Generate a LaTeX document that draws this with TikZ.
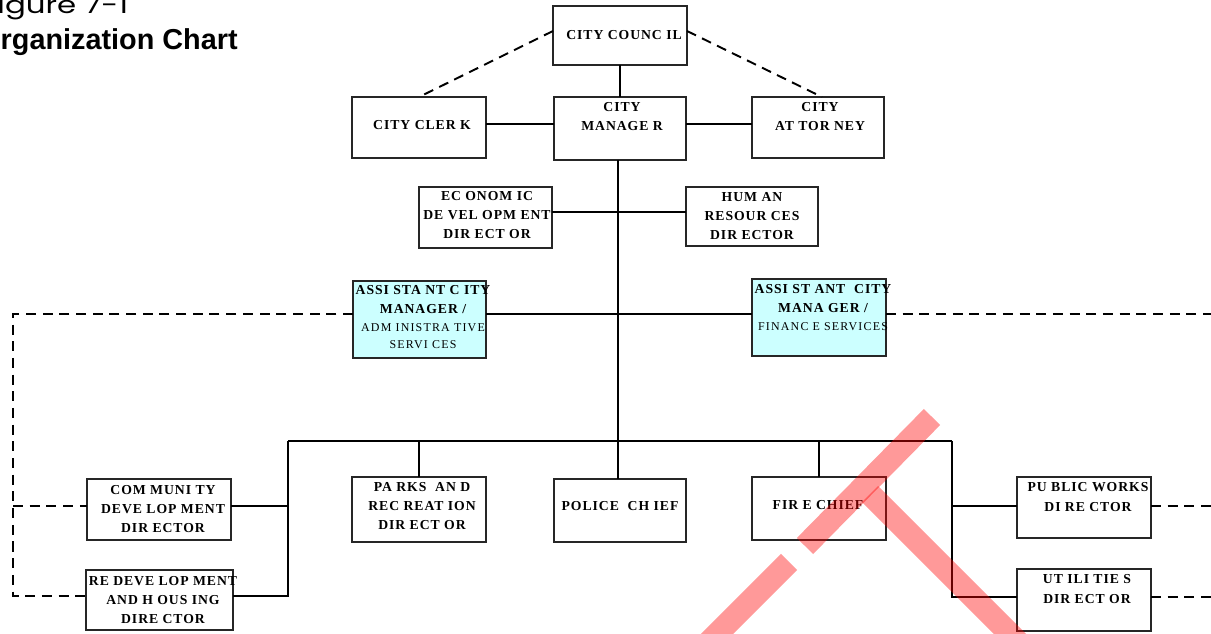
\documentclass[tikz,border=0pt]{standalone}
\usepackage{fontspec}
\setmainfont{Liberation Serif}
\newfontfamily\boxfont{Liberation Serif}[LetterSpace=7]
\newfontfamily\smallboxfont{Liberation Serif}[LetterSpace=10]
\newfontfamily\headfont{Liberation Sans}
\newfontfamily\figfont{Poppins}[FakeStretch=1.3]
\definecolor{asstfill}{RGB}{204,255,255}

\begin{document}
\begin{tikzpicture}[x=0.02cm, y=-0.02cm,
  box/.style={draw=black!85, line width=0.6pt, inner sep=0pt, outer sep=0pt, rectangle},
  asstbox/.style={box, fill=asstfill},
  sz/.style 2 args={minimum width=#1*0.02cm, minimum height=#2*0.02cm},
  unit text/.style={align=center, inner sep=0pt,
    font=\boxfont\bfseries\fontsize{7.8}{11}\selectfont},
  link/.style={line width=1.1pt, black},
  dashlink/.style={line width=1.1pt, black, dash pattern=on 5.7pt off 3.8pt},
  cross/.style={line width=13pt, red, draw opacity=0.4, line cap=butt}
]
\useasboundingbox (0,0) rectangle (1211,634);

% ---- heading ----
\node[anchor=base east, inner sep=0pt, font=\figfont\fontsize{13.5}{15}\selectfont]
  (fignum) at (128.5,14) {Figure 7-1};
\node[anchor=base east, inner sep=0pt, font=\headfont\bfseries\fontsize{16.4}{19}\selectfont]
  (figtitle) at (238,49.5) {Organization Chart};

% ---- unit boxes ----
\node[box, sz={134}{59}] (council)   at (620,35.5)   {};
\node[box, sz={134}{61}] (clerk)     at (419,127.5)  {};
\node[box, sz={132}{63}] (manager)   at (620,128.5)  {};
\node[box, sz={132}{61}] (attorney)  at (818,127.5)  {};
\node[box, sz={133}{61}] (econ)      at (485.5,217.5) {};
\node[box, sz={132}{59}] (hr)        at (752,216.5)  {};
\node[asstbox, sz={133}{77}] (acmadmin) at (419.5,319.5) {};
\node[asstbox, sz={134}{77}] (acmfin)   at (819,317.5)   {};
\node[box, sz={144}{61}] (community) at (159,509.5)  {};
\node[box, sz={134}{65}] (parks)     at (419,509.5)  {};
\node[box, sz={132}{63}] (police)    at (620,510.5)  {};
\node[box, sz={134}{63}] (fire)      at (819,508.5)  {};
\node[box, sz={134}{61}] (public)    at (1084,507.5) {};
\node[box, sz={147}{60}] (redev)     at (159.5,600)  {};
\node[box, sz={134}{62}] (utilities) at (1084,600)   {};

% ---- unit titles ----
\node[unit text] (council-t)   at (624,35)    {CITY COUNC IL};
\node[unit text] (clerk-t)     at (422,125)   {CITY CLER K};
\node[unit text] (manager-t)   at (622,116.5) {CITY\\MANAGE R};
\node[unit text] (attorney-t)  at (820,116.5) {CITY\\AT TOR NEY};
\node[unit text] (econ-t)      at (487,215)   {EC ONOM IC\\DE VEL OPM ENT\\DIR ECT OR};
\node[unit text] (hr-t)        at (752,216)   {HUM AN\\RESOUR CES\\DIR ECTOR};
\node[unit text] (acmadmin-t)  at (423,317)
  {ASSI STA NT C ITY\\MANAGER /\\[-1pt]
   {\smallboxfont\mdseries\fontsize{6.8}{9.7}\selectfont ADM INISTRA TIVE}\\[-1.5pt]
   {\smallboxfont\mdseries\fontsize{6.8}{9.7}\selectfont SERVI CES}};
\node[unit text] (acmfin-t)    at (823,307.5)
  {ASSI ST ANT\ \ CITY\\MANA GER /\\[-1pt]
   {\smallboxfont\mdseries\fontsize{6.8}{9.7}\selectfont FINANC E SERVICES}};
\node[unit text] (community-t) at (163,509)   {COM MUNI TY\\DEVE LOP MENT\\DIR ECTOR};
\node[unit text] (parks-t)     at (422,506)   {PA RKS\ \ AN D\\REC REAT ION\\DIR ECT OR};
\node[unit text] (police-t)    at (620,506)   {POLICE\ \ CH IEF};
\node[unit text] (fire-t)      at (818,505)   {FIR E CHIEF};
\node[unit text] (public-t)    at (1088,497)  {PU BLIC WORKS\\DI RE CTOR};
\node[unit text] (redev-t)     at (163,600)   {RE DEVE LOP MENT\\AND H OUS ING\\DIRE CTOR};
\node[unit text] (utilities-t) at (1087,589)  {UT ILI TIE S\\DIR ECT OR};

% ---- routing levels ----
\coordinate (yTop)   at (0,31);
\coordinate (yCM)    at (0,124);
\coordinate (yEcon)  at (0,212);
\coordinate (yAsst)  at (0,314);
\coordinate (yComm)  at (0,506);
\coordinate (yRedev) at (0,596);
\coordinate (yUtil)  at (0,597);
\coordinate (busL)   at (288,441);
\coordinate (busR)   at (952,441);
\coordinate (spine)  at (618,441);
\coordinate (dL)     at (13,314);
\coordinate (dR)     at (1211,314);

% ---- solid reporting lines ----
\draw[link] (council.south) -- (council.south |- manager.north);
\draw[link] (clerk.east |- yCM) -- (manager.west |- yCM);
\draw[link] (manager.east |- yCM) -- (attorney.west |- yCM);
\draw[link] (manager.south -| spine) -- (police.north -| spine);
\draw[link] (econ.east |- yEcon) -- (hr.west |- yEcon);
\draw[link] (acmadmin.east |- yAsst) -- (acmfin.west |- yAsst);
\draw[link] (busL) -- (busR);
\draw[link] (parks.north |- busL) -- (parks.north);
\draw[link] (fire.north |- busL) -- (fire.north);
\draw[link] (busL) -- (busL |- yRedev) -- (redev.east |- yRedev);
\draw[link] (busL |- yComm) -- (community.east |- yComm);
\draw[link] (busR) -- (busR |- yUtil) -- (utilities.west |- yUtil);
\draw[link] (busR |- yComm) -- (public.west |- yComm);

% ---- dashed coordination lines ----
\draw[dashlink] (council.west |- yTop) -- (clerk.north);
\draw[dashlink] (council.east |- yTop) -- ([xshift=4*0.02cm]attorney.north);
\draw[dashlink] (acmadmin.west |- yAsst) -- (dL) -- (dL |- yRedev) -- (redev.west |- yRedev);
\draw[dashlink] (dL |- yComm) -- (community.west |- yComm);
\draw[dashlink] (acmfin.east |- yAsst) -- (dR);
\draw[dashlink] (public.east |- yComm) -- (dR |- yComm);
\draw[dashlink] (utilities.east |- yUtil) -- (dR |- yUtil);

% ---- red cross mark ----
\draw[cross] (932,417) -- (805,546);
\draw[cross] (789,562) -- (690,661);
\draw[cross] (870,494) -- (1040,664);
\end{tikzpicture}
\end{document}
